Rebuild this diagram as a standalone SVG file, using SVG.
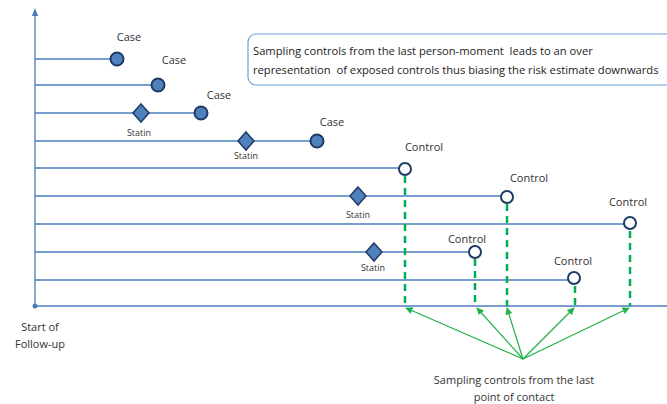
<svg xmlns="http://www.w3.org/2000/svg" width="667" height="404" viewBox="0 0 667 404">
  <defs>
    <marker id="axisHead" viewBox="0 0 10 10" refX="5" refY="5" markerWidth="6" markerHeight="6" orient="auto">
      <path d="M0,1 L10,5 L0,9 Z" fill="#4a7ebb"/>
    </marker>
    <marker id="greenHead" viewBox="0 0 10 10" refX="9" refY="5" markerWidth="6" markerHeight="6" orient="auto">
      <path d="M0,0 L10,5 L0,10 Z" fill="#22b04a"/>
    </marker>
  </defs>
  <style>
    .tl { stroke: #4a7ebb; stroke-width: 1.3; fill: none; }
    .case { fill: #4f81bd; stroke: #1f3a66; stroke-width: 2; }
    .statin { fill: #4f81bd; stroke: #1f3a66; stroke-width: 1.5; }
    .ctrl { fill: #ffffff; stroke: #1f3a66; stroke-width: 2; }
    .dash { stroke: #00b050; stroke-width: 2.5; stroke-dasharray: 7 5; fill: none; }
    .arrow { stroke: #22b04a; stroke-width: 1.2; fill: none; }
    text { font-family: "Open Sans", "Liberation Sans", sans-serif; fill: #333333; }
    .lbl { font-size: 11px; }
    .sm { font-size: 9px; }
    .note { font-size: 11.2px; fill: #222222; white-space: pre; }
  </style>

  <!-- axes -->
  <g id="axes">
    <line class="tl" x1="35" y1="306" x2="35" y2="12" marker-end="url(#axisHead)"/>
    <line class="tl" x1="35" y1="306" x2="667" y2="306"/>
    <circle cx="35" cy="306" r="2.5" fill="#4a7ebb"/>
    <text class="lbl" x="40" y="331" text-anchor="middle">Start of</text>
    <text class="lbl" x="40" y="348" text-anchor="middle">Follow-up</text>
  </g>

  <!-- note box -->
  <g id="note">
    <rect x="248" y="34" width="440" height="51" rx="8" fill="#ffffff" stroke="#6fa0d8" stroke-width="1.2"/>
    <text class="note" x="253" y="55" xml:space="preserve">Sampling controls from the last person-moment  leads to an over</text>
    <text class="note" x="253" y="74" xml:space="preserve">representation  of exposed controls thus biasing the risk estimate downwards</text>
  </g>

  <!-- connectors -->
  <g id="connectors">
    <line class="tl" x1="35" y1="59" x2="117" y2="59"/>
    <line class="tl" x1="35" y1="85" x2="158" y2="85"/>
    <line class="tl" x1="35" y1="113" x2="201" y2="113"/>
    <line class="tl" x1="35" y1="141" x2="317" y2="141"/>
    <line class="tl" x1="35" y1="168" x2="405" y2="168"/>
    <line class="tl" x1="35" y1="196" x2="507" y2="196"/>
    <line class="tl" x1="35" y1="224" x2="630" y2="224"/>
    <line class="tl" x1="35" y1="252" x2="475" y2="252"/>
    <line class="tl" x1="35" y1="280" x2="574" y2="280"/>

    <line class="dash" x1="405" y1="176" x2="405" y2="306"/>
    <line class="dash" x1="507" y1="204" x2="507" y2="306"/>
    <line class="dash" x1="630" y1="231" x2="630" y2="306"/>
    <line class="dash" x1="475" y1="259" x2="475" y2="306"/>
    <line class="dash" x1="575" y1="286" x2="575" y2="306"/>

    <line class="arrow" x1="523" y1="359" x2="406" y2="308" marker-end="url(#greenHead)"/>
    <line class="arrow" x1="523" y1="359" x2="477" y2="308" marker-end="url(#greenHead)"/>
    <line class="arrow" x1="523" y1="359" x2="507" y2="308" marker-end="url(#greenHead)"/>
    <line class="arrow" x1="523" y1="359" x2="574" y2="308" marker-end="url(#greenHead)"/>
    <line class="arrow" x1="523" y1="359" x2="629" y2="308" marker-end="url(#greenHead)"/>
  </g>

  <!-- cases -->
  <g id="case1"><circle class="case" cx="117" cy="59" r="6.5"/><text class="lbl" x="129" y="41" text-anchor="middle">Case</text></g>
  <g id="case2"><circle class="case" cx="158" cy="85" r="6.5"/><text class="lbl" x="174" y="64" text-anchor="middle">Case</text></g>
  <g id="case3"><circle class="case" cx="201" cy="113" r="6.5"/><text class="lbl" x="219" y="99" text-anchor="middle">Case</text></g>
  <g id="case4"><circle class="case" cx="317" cy="141" r="6.5"/><text class="lbl" x="332" y="126" text-anchor="middle">Case</text></g>

  <!-- statin exposures -->
  <g id="statin1"><path class="statin" d="M141,104 L149,113 L141,122 L133,113 Z"/><text class="sm" x="139" y="136" text-anchor="middle">Statin</text></g>
  <g id="statin2"><path class="statin" d="M246,132 L254,141 L246,150 L238,141 Z"/><text class="sm" x="246" y="159" text-anchor="middle">Statin</text></g>
  <g id="statin3"><path class="statin" d="M358,187 L366,196 L358,205 L350,196 Z"/><text class="sm" x="358" y="218" text-anchor="middle">Statin</text></g>
  <g id="statin4"><path class="statin" d="M374,243 L382,252 L374,261 L366,252 Z"/><text class="sm" x="373" y="271" text-anchor="middle">Statin</text></g>

  <!-- controls -->
  <g id="control1"><circle class="ctrl" cx="405" cy="169" r="6"/><text class="lbl" x="424" y="151" text-anchor="middle">Control</text></g>
  <g id="control2"><circle class="ctrl" cx="507" cy="197" r="6"/><text class="lbl" x="529" y="182" text-anchor="middle">Control</text></g>
  <g id="control3"><circle class="ctrl" cx="630" cy="223" r="6"/><text class="lbl" x="628" y="206" text-anchor="middle">Control</text></g>
  <g id="control4"><circle class="ctrl" cx="475" cy="252" r="6"/><text class="lbl" x="467" y="243" text-anchor="middle">Control</text></g>
  <g id="control5"><circle class="ctrl" cx="574" cy="278" r="6"/><text class="lbl" x="573" y="265" text-anchor="middle">Control</text></g>

  <!-- footnote -->
  <g id="caption">
    <text class="lbl" x="514" y="384" text-anchor="middle">Sampling controls from the last</text>
    <text class="lbl" x="514" y="401" text-anchor="middle">point of contact</text>
  </g>
</svg>
